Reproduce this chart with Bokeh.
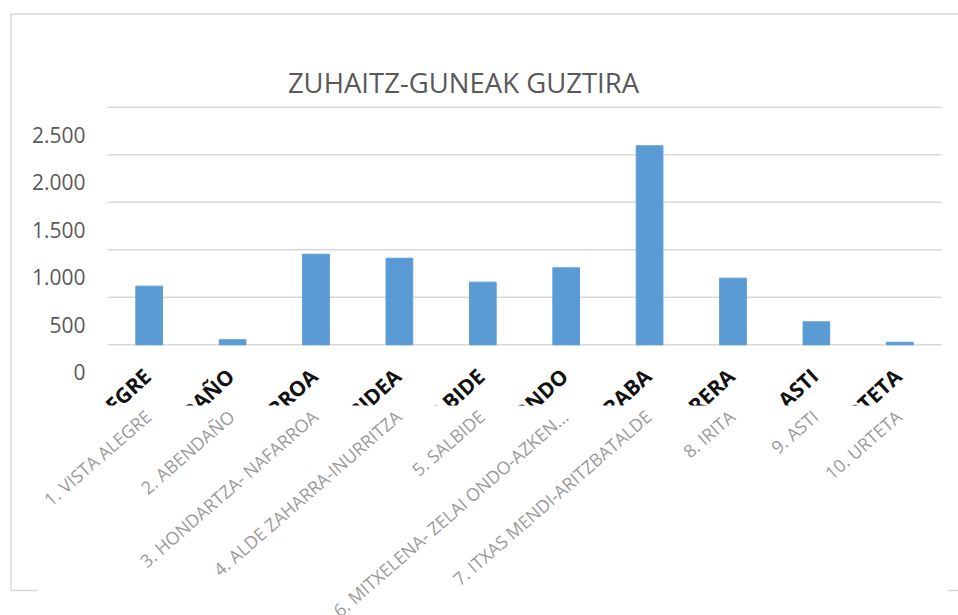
import math
from bokeh.plotting import figure
from bokeh.models import ColumnDataSource, Range1d
from bokeh.core.properties import value
from bokeh.embed import file_html
from bokeh.resources import INLINE

# ---- data ----
chart_title = "ZUHAITZ-GUNEAK GUZTIRA"
categories = ["1. VISTA ALEGRE", "2. ABENDAÑO", "3. HONDARTZA- NAFARROA",
              "4. ALDE ZAHARRA-INURRITZA", "5. SALBIDE",
              "6. MITXELENA- ZELAI ONDO-AZKEN...", "7. ITXAS MENDI-ARITZBATALDE",
              "8. IRITA", "9. ASTI", "10. URTETA"]
bold_labels = ["LEGRE", "DAÑO", "RROA", "BIDEA", "LBIDE", "ONDO", "RABA",
               "RERA", "ASTI", "RTETA"]
values = [617, 53, 953, 911, 659, 810, 2094, 701, 242, 27]
y_ticks = [0, 500, 1000, 1500, 2000, 2500]
y_tick_labels = ["0", "500", "1.000", "1.500", "2.000", "2.500"]

# ---- layout constants (pixels of the 958x615 page) ----
W, H = 958, 615
PLOT_LEFT_PX = 107.0      # left edge of first category slot
CAT_W_PX = 83.4           # width of one category slot
ZERO_PX = 344.3           # y pixel of value 0
PX_PER_500 = 47.52        # pixels per 500 units
UPP = 500.0 / PX_PER_500  # units per pixel
LABEL_ANGLE = math.radians(41)
BOLD_ANGLE = math.radians(43)


def px2x(px):
    return (px - PLOT_LEFT_PX) / CAT_W_PX


def px2y(py):
    return (ZERO_PX - py) * UPP


BAR_COLOR = "#5b9bd5"
GRID_COLOR = "#d9d9d9"
TEXT_GREY = "#595959"
LABEL_GREY = "#9a9a9a"

n = len(categories)
centers = [i + 0.5 for i in range(n)]

p = figure(width=W, height=H,
           x_range=Range1d(px2x(0), px2x(W)),
           y_range=Range1d(px2y(H), px2y(0)),
           x_axis_location=None, y_axis_location=None,
           toolbar_location=None, output_backend="svg",
           min_border=0, outline_line_color=None,
           background_fill_color="white", border_fill_color="white")
p.xgrid.visible = False
p.ygrid.visible = False

# chart-area border (light grey)
p.multi_line(xs=[[px2x(10.5), px2x(10.5), px2x(W)],
                 [px2x(10.5), px2x(37)],
                 [px2x(947), px2x(W)]],
             ys=[[px2y(590), px2y(13.5), px2y(13.5)],
                 [px2y(590), px2y(590)],
                 [px2y(590), px2y(590)]],
             line_color=GRID_COLOR, line_width=1.5)

# title
p.text(x=[px2x(463)], y=[px2y(82)], text=[chart_title],
       text_align="center", text_baseline="middle",
       text_font=value("Open Sans"), text_font_size="27.5px",
       text_color=TEXT_GREY)

# horizontal gridlines
p.segment(x0=0, x1=n, y0=y_ticks, y1=y_ticks,
          line_color=GRID_COLOR, line_width=1.5)

# y tick labels (drawn shifted below their gridlines, as in the reference)
LABEL_SHIFT = 27.6 * UPP
p.text(x=px2x(85), y=[t - LABEL_SHIFT for t in y_ticks], text=y_tick_labels,
       text_align="right", text_baseline="middle",
       text_font=value("Open Sans"), text_font_size="21px",
       text_color=TEXT_GREY)

src = ColumnDataSource(dict(x=centers, val=values, bold=bold_labels,
                            cat=categories,
                            xb=[c - 2 / CAT_W_PX for c in centers],
                            xg=[c - 9 / CAT_W_PX for c in centers]))

# bars
p.vbar(x="x", top="val", bottom=0, width=0.32, source=src,
       fill_color=BAR_COLOR, line_color=BAR_COLOR)

# bold overlapping labels, cut off at the bottom
p.text(x="xb", y=px2y(372), text="bold", source=src, angle=BOLD_ANGLE,
       text_align="right", text_baseline="middle",
       text_font=value("Open Sans"), text_font_style="bold",
       text_font_size="21px", text_color="#111111")
p.quad(left=px2x(40), right=px2x(950), top=px2y(405), bottom=px2y(470),
       fill_color="white", line_color=None)

# grey rotated category labels
p.text(x="xg", y=px2y(404), text="cat", source=src, angle=LABEL_ANGLE,
       text_align="right", text_baseline="top",
       text_font=value("Open Sans"), text_font_size="17.8px",
       text_color=LABEL_GREY)

open("out.html", "w").write(file_html(p, INLINE))
